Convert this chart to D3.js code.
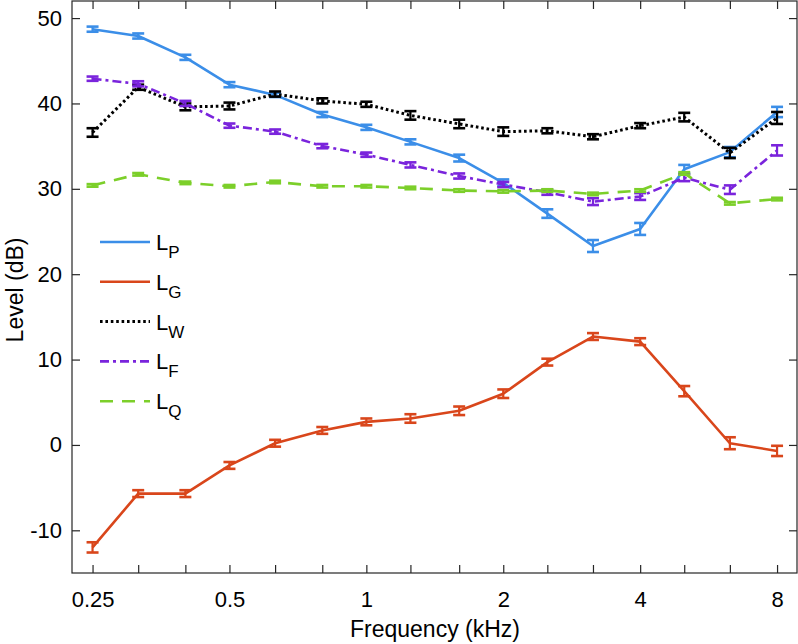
<!DOCTYPE html>
<html><head><meta charset="utf-8">
<script src="https://cdn.jsdelivr.net/npm/d3@7"></script>
<style>body{margin:0;background:#fff}svg{display:block;font-family:"Liberation Sans",Arial,Helvetica,sans-serif}</style>
</head><body><svg id="c" width="798" height="644"></svg>
<script>
const freqs = [0.25,0.315,0.4,0.5,0.63,0.8,1,1.25,1.6,2,2.5,3.15,4,5,6.3,8];
const tickLabels = ["0.25","","","0.5","","","1","","","2","","","4","","","8"];
const yTicks = [-10,0,10,20,30,40,50];
const LP = [48.7,47.9,45.4,42.2,41.0,38.7,37.2,35.5,33.6,30.7,27.1,23.3,25.3,32.3,34.3,39.0];
const LP_err = [0.3,0.3,0.3,0.3,0.25,0.3,0.3,0.3,0.4,0.4,0.5,0.7,0.7,0.5,0.6,0.6];
const LG = [-12.0,-5.7,-5.7,-2.4,0.2,1.7,2.7,3.1,4.0,6.0,9.7,12.7,12.1,6.3,0.2,-0.7];
const LG_err = [0.6,0.4,0.4,0.4,0.4,0.4,0.4,0.5,0.5,0.5,0.4,0.4,0.4,0.6,0.7,0.6];
const LW = [36.6,41.9,39.6,39.7,41.1,40.3,39.9,38.6,37.6,36.7,36.8,36.1,37.4,38.4,34.2,38.3];
const LW_err = [0.5,0.3,0.4,0.4,0.3,0.3,0.3,0.5,0.5,0.5,0.3,0.3,0.3,0.5,0.6,0.7];
const LF = [42.9,42.3,40.0,37.4,36.7,35.0,34.0,32.8,31.5,30.5,29.6,28.5,29.1,31.3,29.9,34.5];
const LF_err = [0.25,0.3,0.3,0.25,0.25,0.25,0.25,0.3,0.3,0.3,0.3,0.4,0.4,0.4,0.5,0.6];
const LQ = [30.4,31.7,30.7,30.3,30.8,30.3,30.3,30.1,29.8,29.7,29.8,29.4,29.8,31.8,28.3,28.8];
const LQ_err = [0.15,0.15,0.15,0.15,0.15,0.15,0.15,0.15,0.15,0.15,0.15,0.15,0.15,0.15,0.15,0.15];
const seriesNames = ["P","G","W","F","Q"];

const series = [
  {name:"P", v:LP, e:LP_err, color:"#3b8ee8", dash:null, w:2.6},
  {name:"G", v:LG, e:LG_err, color:"#d9461b", dash:null, w:2.6},
  {name:"W", v:LW, e:LW_err, color:"#000000", dash:"2.6,2.8", w:3},
  {name:"F", v:LF, e:LF_err, color:"#7a24dc", dash:"9,4,3,4", w:2.6},
  {name:"Q", v:LQ, e:LQ_err, color:"#7ccf2a", dash:"13,9", w:2.6}
];

const svg = d3.select("#c");
const L=72, R=797, T=1, B=573;
const x = d3.scaleLog().domain([0.2253,8.85]).range([L,R]);
const y = d3.scaleLinear().domain([-15,52]).range([B,T]);

const g = svg.append("g");
g.append("rect").attr("x",L).attr("y",T).attr("width",R-L).attr("height",B-T)
  .attr("fill","none").attr("stroke","#262626").attr("stroke-width",1.2);

const xb = g.append("g").attr("transform",`translate(0,${B})`)
  .call(d3.axisBottom(x).tickValues(freqs).tickFormat((d,i)=>tickLabels[i]).tickSizeInner(-8).tickSizeOuter(0).tickPadding(18));
const xt = g.append("g").attr("transform",`translate(0,${T})`)
  .call(d3.axisTop(x).tickValues(freqs).tickFormat("").tickSizeInner(-8).tickSizeOuter(0));
const yl = g.append("g").attr("transform",`translate(${L},0)`)
  .call(d3.axisLeft(y).tickValues(yTicks).tickFormat(d=>String(d)).tickSizeInner(-8).tickSizeOuter(0).tickPadding(10));
const yr = g.append("g").attr("transform",`translate(${R},0)`)
  .call(d3.axisRight(y).tickValues(yTicks).tickFormat("").tickSizeInner(-8).tickSizeOuter(0));
[xb,xt,yl,yr].forEach(a=>{
  a.select(".domain").remove();
  a.selectAll(".tick line").attr("stroke","#262626").attr("stroke-width",1.2);
  a.selectAll(".tick text").attr("fill","#000").style("font-size","22px").style("font-family",'"Liberation Sans",Arial,sans-serif');
});
xb.selectAll(".tick text").attr("dy","0.71em");

const line = d3.line().x((d,i)=>x(freqs[i])).y(d=>y(d));
series.forEach(s=>{
  const sg = svg.append("g");
  sg.append("path").datum(s.v).attr("d",line).attr("fill","none")
    .attr("stroke",s.color).attr("stroke-width",s.w)
    .attr("stroke-dasharray",s.dash).attr("stroke-linejoin","round");
  s.v.forEach((v,i)=>{
    const cx = x(freqs[i]), y0=y(v-s.e[i]), y1=y(v+s.e[i]);
    sg.append("line").attr("x1",cx).attr("x2",cx).attr("y1",y0).attr("y2",y1).attr("stroke",s.color).attr("stroke-width",2.2);
    [y0,y1].forEach(yy=>sg.append("line").attr("x1",cx-6).attr("x2",cx+6).attr("y1",yy).attr("y2",yy).attr("stroke",s.color).attr("stroke-width",2.6));
  });
});

const lg = svg.append("g");
series.forEach((s,i)=>{
  const yy = 242 + i*39.8;
  lg.append("line").attr("x1",100).attr("x2",150).attr("y1",yy).attr("y2",yy)
    .attr("stroke",s.color).attr("stroke-width",s.w).attr("stroke-dasharray",s.dash);
  const t = lg.append("text").attr("x",156).attr("y",yy+8).style("font-size","22px").attr("fill","#000");
  t.append("tspan").text("L");
  t.append("tspan").attr("dy",8).style("font-size","17px").text(seriesNames[i]);
});

svg.append("text").attr("x",435).attr("y",637).attr("text-anchor","middle").style("font-size","23px").text("Frequency (kHz)");
svg.append("text").attr("transform","translate(23,290) rotate(-90)").attr("text-anchor","middle").style("font-size","23px").text("Level (dB)");
</script></body></html>
